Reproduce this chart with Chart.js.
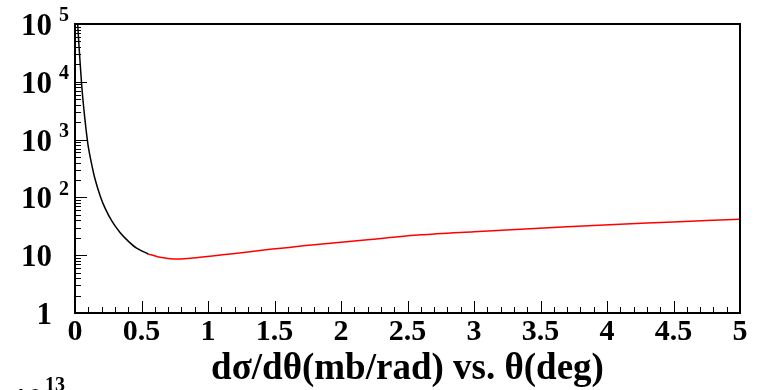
<!DOCTYPE html>
<html>
<head>
<meta charset="utf-8">
<script src="https://cdn.jsdelivr.net/npm/chart.js@4.4.1/dist/chart.umd.min.js"></script>
<style>
  html, body { margin: 0; padding: 0; background: #fff; }
  #wrap { width: 757px; height: 390px; }
</style>
</head>
<body>
<div id="wrap"><canvas id="my-chart"></canvas></div>
<script>
// curve: black part at small angles, red part after
const blackTheta = [0.02, 0.03, 0.04, 0.05, 0.06, 0.075, 0.09, 0.1, 0.12, 0.15, 0.19, 0.225, 0.28, 0.34, 0.4, 0.46, 0.55];
const blackSigma = [100000, 42000, 19000, 9000, 4800, 2200, 1100, 750, 430, 210, 105, 66, 38, 24.5, 17.5, 13.4, 10.5];

const redTheta = [0.55, 0.64, 0.7, 0.77, 0.85, 0.94, 1.05, 1.17, 1.3, 1.42, 1.55, 1.67, 1.8, 1.92, 2.2, 2.6, 3.0, 3.35, 3.7, 4.1, 4.5, 5.0];
const redSigma = [10.5, 9.2, 8.8, 8.6, 8.8, 9.2, 9.8, 10.5, 11.4, 12.3, 13.2, 14.1, 15.2, 16.1, 18.5, 22.5, 25.5, 28.2, 31, 34.4, 37.5, 42];

const xTicks = [0, 0.5, 1, 1.5, 2, 2.5, 3, 3.5, 4, 4.5, 5];
const xTickLabels = ['0', '0.5', '1', '1.5', '2', '2.5', '3', '3.5', '4', '4.5', '5'];
const yTicks = [1, 10, 100, 1000, 10000, 100000];
const yExponents = ['', '', '2', '3', '4', '5'];

const titleText = 'd\u03c3/d\u03b8(mb/rad) vs. \u03b8(deg)';
const FONT = '"Liberation Serif", "DejaVu Serif", serif';

function toPoints(xs, ys) {
  return xs.map((x, i) => ({ x: x, y: ys[i] }));
}

const rootFrame = {
  id: 'rootFrame',
  afterDraw(chart) {
    const ctx = chart.ctx;
    const xs = chart.scales.x;
    const ys = chart.scales.y;
    const a = chart.chartArea;
    ctx.save();
    ctx.strokeStyle = '#000';
    ctx.fillStyle = '#000';

    // frame
    ctx.lineWidth = 2;
    ctx.strokeRect(a.left, a.top, a.right - a.left, a.bottom - a.top);

    // x ticks (inward), major every 0.5, minor every 0.1
    ctx.lineWidth = 1;
    ctx.beginPath();
    for (let i = 0; i <= 50; i++) {
      const v = i / 10;
      const px = Math.round(xs.getPixelForValue(v)) + 0.5;
      const len = (i % 5 === 0) ? 12 : 6;
      ctx.moveTo(px, a.bottom);
      ctx.lineTo(px, a.bottom - len);
    }
    // y ticks (inward), decades major, 2..9 minor
    for (let d = 0; d < 5; d++) {
      for (let m = 1; m <= 9; m++) {
        const v = m * Math.pow(10, d);
        const py = Math.round(ys.getPixelForValue(v)) + 0.5;
        const len = (m === 1) ? 12 : 6;
        ctx.moveTo(a.left, py);
        ctx.lineTo(a.left + len, py);
      }
    }
    ctx.stroke();

    // x labels
    ctx.font = 'bold 30px ' + FONT;
    ctx.textAlign = 'center';
    ctx.textBaseline = 'middle';
    xTicks.forEach((v, i) => {
      ctx.fillText(xTickLabels[i], xs.getPixelForValue(v), a.bottom + 19);
    });

    // y labels with exponents
    yTicks.forEach((v, i) => {
      const py = ys.getPixelForValue(v);
      ctx.font = 'bold 31px ' + FONT;
      ctx.textAlign = 'right';
      ctx.textBaseline = 'middle';
      ctx.fillText(v === 1 ? '1' : '10', 52, py + 3);
      if (yExponents[i]) {
        ctx.font = 'bold 20px ' + FONT;
        ctx.textAlign = 'left';
        ctx.fillText(yExponents[i], 59, py - 8);
      }
    });

    // axis title
    ctx.font = 'bold 37px ' + FONT;
    ctx.textAlign = 'center';
    ctx.textBaseline = 'alphabetic';
    ctx.fillText(titleText, (a.left + a.right) / 2, 379);

    // cut-off multiplier at the bottom edge
    ctx.font = 'bold 31px ' + FONT;
    ctx.textAlign = 'left';
    ctx.textBaseline = 'top';
    ctx.fillText('10', 12, 386);
    ctx.font = 'bold 20px ' + FONT;
    ctx.fillText('13', 45, 376);
    ctx.restore();
  }
};

const ctx = document.getElementById('my-chart').getContext('2d');
const chart = new Chart(ctx, {
  type: 'line',
  data: {
    datasets: [
      {
        label: 'small angle',
        data: toPoints(blackTheta, blackSigma),
        borderColor: '#000000',
        borderWidth: 1.5,
        pointRadius: 0,
        tension: 0.3
      },
      {
        label: 'large angle',
        data: toPoints(redTheta, redSigma),
        borderColor: '#ff0000',
        borderWidth: 1.5,
        pointRadius: 0,
        tension: 0.3
      }
    ]
  },
  options: {
    responsive: true,
    maintainAspectRatio: false,
    animation: false,
    layout: { padding: { left: 75, top: 24, right: 17, bottom: 77 } },
    plugins: { legend: { display: false }, tooltip: { enabled: false } },
    scales: {
      x: { type: 'linear', min: 0, max: 5, display: false },
      y: { type: 'logarithmic', min: 1, max: 100000, display: false }
    }
  },
  plugins: [rootFrame]
});
</script>
</body>
</html>
